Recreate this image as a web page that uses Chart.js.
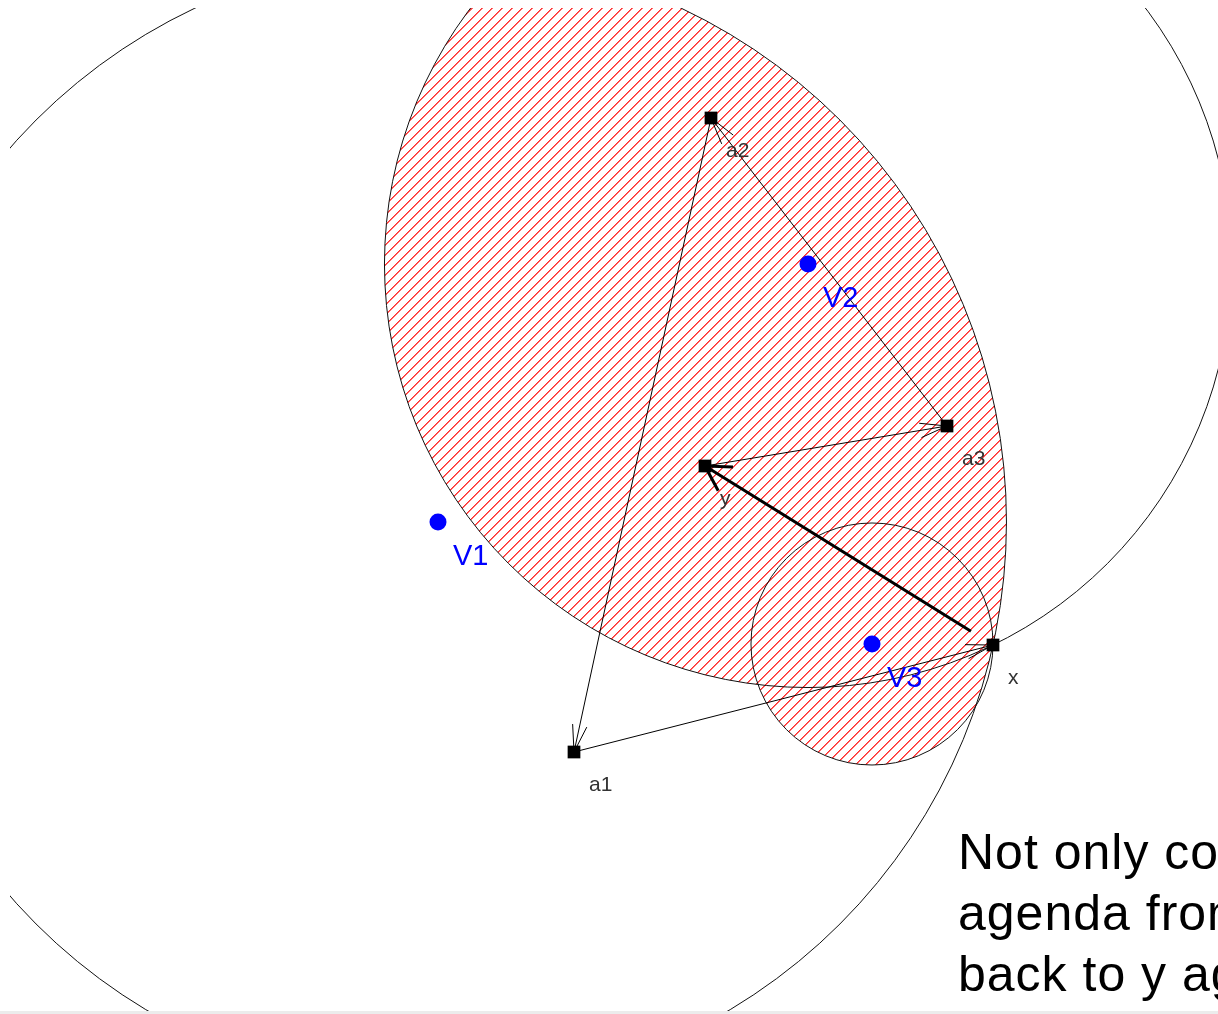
<!DOCTYPE html>
<html>
<head>
<meta charset="utf-8">
<script src="https://cdn.jsdelivr.net/npm/chart.js@4/dist/chart.umd.min.js"></script>
<style>
  html, body { margin: 0; padding: 0; background: #fff; overflow: hidden; }
  #wrap { position: relative; width: 1218px; height: 1014px; overflow: hidden; }
  #plot { position: absolute; left: 0; top: 0; }
  #note {
    position: absolute; left: 958px; top: 822px;
    font: 50px "Liberation Sans", Arial, sans-serif; line-height: 61px;
    letter-spacing: 1px; white-space: nowrap; color: #000;
  }
  #strip { position: absolute; left: 0; bottom: 0; width: 100%; height: 3px; background: #ececec; }
</style>
</head>
<body>
<div id="wrap">
  <canvas id="plot" width="1218" height="1014"></canvas>
  <div id="note">Not only could we get to any<br>agenda from x, we can get<br>back to y again</div>
  <div id="strip"></div>
</div>
<script>
// Agenda points (alternatives) and voter ideal points
const agendaNames = ['a1', 'a2', 'a3', 'y', 'x'];
const agendaX = [574, 711, 947, 705, 993];
const agendaY = [752, 118, 426, 466, 645];

const voterNames = ['V1', 'V2', 'V3'];
const voterX = [438, 808, 872];
const voterY = [522, 264, 644];

// Agenda path: y -> a3 -> a2 -> a1 -> x -> y
const arrowFrom = ['y', 'a3', 'a2', 'a1', 'x'];
const arrowTo = ['a3', 'a2', 'a1', 'x', 'y'];
const arrowBold = [false, false, false, false, true];

const statusQuo = 'x';

document.addEventListener('DOMContentLoaded', function () {
  const agendaPts = agendaNames.map((n, i) => ({ x: agendaX[i], y: agendaY[i] }));
  const voterPts = voterNames.map((n, i) => ({ x: voterX[i], y: voterY[i] }));
  const sq = agendaPts[agendaNames.indexOf(statusQuo)];

  function px(chart, p) {
    return { x: chart.scales.x.getPixelForValue(p.x), y: chart.scales.y.getPixelForValue(p.y) };
  }

  // indifference circles through the status quo, in pixels
  function circles(chart) {
    const q = px(chart, sq);
    return voterPts.map(v => {
      const c = px(chart, v);
      return { x: c.x, y: c.y, r: Math.hypot(q.x - c.x, q.y - c.y) };
    });
  }

  function arrow(ctx, a, b, lw, len, ang, trim) {
    const dx = b.x - a.x, dy = b.y - a.y;
    const d = Math.hypot(dx, dy);
    const ux = dx / d, uy = dy / d;
    const sx = a.x + ux * trim, sy = a.y + uy * trim;
    ctx.lineWidth = lw;
    ctx.beginPath();
    ctx.moveTo(sx, sy);
    ctx.lineTo(b.x, b.y);
    const back = Math.atan2(-uy, -ux);
    ctx.moveTo(b.x + len * Math.cos(back + ang), b.y + len * Math.sin(back + ang));
    ctx.lineTo(b.x, b.y);
    ctx.lineTo(b.x + len * Math.cos(back - ang), b.y + len * Math.sin(back - ang));
    ctx.stroke();
  }

  // "/" hatch tile: 2px bright red strokes
  function hatchPattern(ctx) {
    const t = document.createElement('canvas');
    t.width = 10; t.height = 10;
    const g = t.getContext('2d');
    for (let i = 0; i < 10; i++) {
      g.fillStyle = '#ff3030';
      g.fillRect(i, 9 - i, 1, 1);
      g.fillStyle = '#ff6a6a';
      g.fillRect((i + 1) % 10, 9 - i, 1, 1);
    }
    return ctx.createPattern(t, 'repeat');
  }

  const spatial = {
    id: 'spatial',
    beforeDatasetsDraw(chart) {
      const ctx = chart.ctx;
      const W = chart.width, H = chart.height;
      const cs = circles(chart);
      const pat = hatchPattern(ctx);

      ctx.save();
      ctx.beginPath();
      ctx.rect(10, 8, W - 10, H - 11);
      ctx.clip();

      // win set of x: union of pairwise intersections of the preferred-to circles
      for (let i = 0; i < cs.length; i++) {
        for (let j = i + 1; j < cs.length; j++) {
          ctx.save();
          ctx.beginPath(); ctx.arc(cs[i].x, cs[i].y, cs[i].r, 0, Math.PI * 2); ctx.clip();
          ctx.beginPath(); ctx.arc(cs[j].x, cs[j].y, cs[j].r, 0, Math.PI * 2); ctx.clip();
          ctx.fillStyle = pat;
          ctx.fillRect(0, 0, W, H);
          ctx.restore();
        }
      }

      ctx.strokeStyle = '#111';
      ctx.lineWidth = 1;
      cs.forEach(c => {
        ctx.beginPath();
        ctx.arc(c.x, c.y, c.r, 0, Math.PI * 2);
        ctx.stroke();
      });

      ctx.strokeStyle = '#000';
      ctx.lineCap = 'butt';
      arrowFrom.forEach((f, i) => {
        const a = px(chart, agendaPts[agendaNames.indexOf(f)]);
        const b = px(chart, agendaPts[agendaNames.indexOf(arrowTo[i])]);
        if (arrowBold[i]) arrow(ctx, a, b, 3, 28, Math.PI / 6, 26);
        else arrow(ctx, a, b, 1, 28, Math.PI / 12, 0);
      });
      ctx.restore();
    },
    afterDatasetsDraw(chart) {
      const ctx = chart.ctx;
      ctx.save();
      ctx.textAlign = 'left';
      ctx.textBaseline = 'alphabetic';
      ctx.font = '21px "Liberation Sans", Arial, sans-serif';
      ctx.fillStyle = '#333';
      agendaPts.forEach((p, i) => {
        const q = px(chart, p);
        ctx.fillText(agendaNames[i], q.x + 15, q.y + 39);
      });
      ctx.font = '29px "Liberation Sans", Arial, sans-serif';
      ctx.fillStyle = '#0000ff';
      voterPts.forEach((p, i) => {
        const q = px(chart, p);
        ctx.fillText(voterNames[i], q.x + 15, q.y + 43);
      });
      ctx.restore();
    }
  };

  const chart = new Chart(document.getElementById('plot').getContext('2d'), {
    type: 'scatter',
    data: {
      datasets: [
        {
          label: 'Agendas',
          data: agendaPts,
          pointStyle: 'rect',
          pointRadius: 9,
          backgroundColor: '#000',
          borderColor: '#000',
          borderWidth: 0
        },
        {
          label: 'Voters',
          data: voterPts,
          pointStyle: 'circle',
          pointRadius: 8.5,
          backgroundColor: '#0000ff',
          borderColor: '#0000ff',
          borderWidth: 0
        }
      ]
    },
    options: {
      responsive: false,
      animation: false,
      events: [],
      layout: { padding: 0, autoPadding: false },
      scales: {
        x: { type: 'linear', min: 0, max: 1218, display: false },
        y: { type: 'linear', min: 0, max: 1014, reverse: true, display: false }
      },
      plugins: {
        legend: { display: false },
        tooltip: { enabled: false }
      }
    },
    plugins: [spatial]
  });
});
</script>
</body>
</html>
